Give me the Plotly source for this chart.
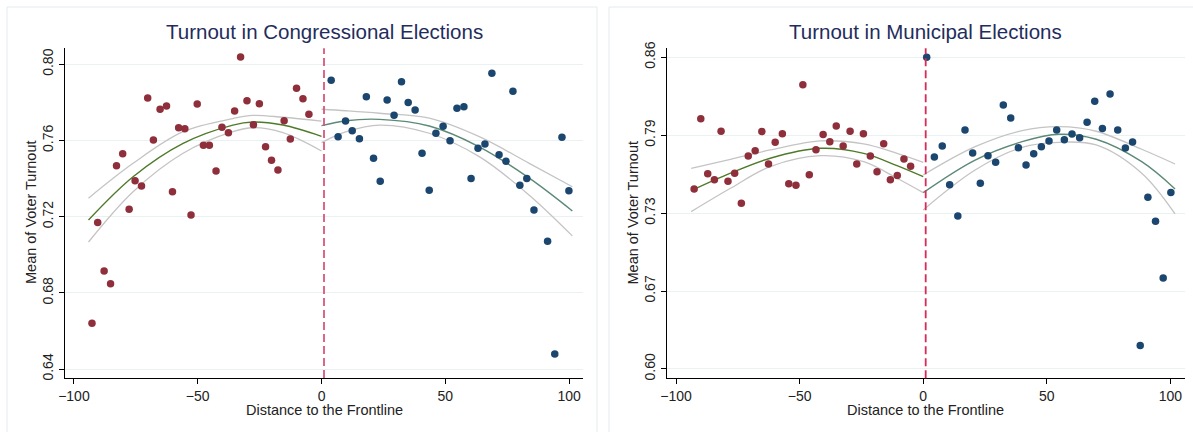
import plotly.graph_objects as go

# ---------------- data: Congressional elections ----------------
cong_red_x = [-92.7, -90.4, -87.8, -85.2, -82.8, -80.3, -77.7, -75.3, -72.7, -70.2, -67.9, -65.2,
              -62.6, -60.2, -57.7, -55.2, -52.7, -50.2, -47.7, -45.3, -42.6, -40.2, -37.6, -35.1,
              -32.7, -30.1, -27.5, -25.1, -22.6, -20.2, -17.6, -15.1, -12.6, -10.1, -7.5, -5.1]
cong_red_y = [0.6640, 0.7169, 0.6915, 0.6848, 0.7468, 0.7531, 0.7239, 0.7389, 0.7361, 0.7823, 0.7603, 0.7764,
              0.7781, 0.7331, 0.7667, 0.7662, 0.7209, 0.7792, 0.7575, 0.7575, 0.7440, 0.7669, 0.7641, 0.7755,
              0.8038, 0.7809, 0.7683, 0.7793, 0.7567, 0.7496, 0.7445, 0.7704, 0.7608, 0.7874, 0.7819, 0.7738]
cong_blue_x = [3.9, 6.7, 9.7, 12.4, 15.3, 18.1, 21.0, 23.7, 26.5, 29.3, 32.3, 35.0, 37.8, 40.6, 43.5, 46.2, 49.1,
               51.9, 54.7, 57.5, 60.4, 63.2, 66.0, 68.8, 71.7, 74.5, 77.3, 80.1, 82.9, 85.8, 91.3, 94.2, 97.1, 99.9]
cong_blue_y = [0.7916, 0.7620, 0.7702, 0.7651, 0.7609, 0.7830, 0.7507, 0.7386, 0.7813, 0.7732, 0.7909, 0.7800,
               0.7760, 0.7533, 0.7339, 0.7638, 0.7675, 0.7599, 0.7769, 0.7777, 0.7400, 0.7559, 0.7582, 0.7953,
               0.7525, 0.7491, 0.7858, 0.7365, 0.7401, 0.7235, 0.7071, 0.6479, 0.7617, 0.7336]

cong_fitL_x = [-94.1, -76.1, -55.9, -35.8, -27.7, -15.6, 0.0]
cong_fitL_y = [0.7183, 0.7410, 0.7585, 0.7681, 0.7697, 0.7681, 0.7622]
cong_fitL_hi = [0.7297, 0.7480, 0.7646, 0.7715, 0.7732, 0.7722, 0.7702]
cong_fitL_lo = [0.7067, 0.7331, 0.7533, 0.7646, 0.7667, 0.7641, 0.7545]

cong_fitR_x = [0.0, 10.0, 23.4, 43.5, 63.7, 83.9, 101.3]
cong_fitR_y = [0.7678, 0.7704, 0.7711, 0.7676, 0.7567, 0.7402, 0.7230]
cong_fitR_hi = [0.7764, 0.7756, 0.7743, 0.7717, 0.7620, 0.7480, 0.7357]
cong_fitR_lo = [0.7589, 0.7646, 0.7681, 0.7638, 0.7515, 0.7313, 0.7099]

cong_ytickvals = [0.64, 0.68, 0.72, 0.76, 0.80]
cong_yticktext = ["0.64", "0.68", "0.72", "0.76", "0.80"]

# ---------------- data: Municipal elections ----------------
muni_red_x = [-92.7, -90.0, -87.2, -84.5, -81.8, -79.0, -76.3, -73.6, -70.8, -68.0, -65.3, -62.6, -59.9,
              -57.0, -54.4, -51.5, -48.7, -46.1, -43.4, -40.5, -37.8, -35.2, -32.4, -29.6, -26.9, -24.2,
              -21.4, -18.7, -16.0, -13.3, -10.5, -7.8, -5.1]
muni_red_y = [0.7502, 0.8088, 0.7629, 0.7579, 0.7983, 0.7566, 0.7633, 0.7382, 0.7777, 0.7821, 0.7980, 0.7710,
              0.7891, 0.7963, 0.7546, 0.7532, 0.8371, 0.7621, 0.7829, 0.7955, 0.7896, 0.8027, 0.7860, 0.7983,
              0.7710, 0.7963, 0.7777, 0.7646, 0.7879, 0.7579, 0.7613, 0.7752, 0.7691]
muni_blue_x = [1.4, 4.5, 7.7, 10.7, 14.0, 16.9, 20.0, 23.1, 26.2, 29.3, 32.4, 35.4, 38.5, 41.6, 44.7, 47.8,
               50.9, 54.0, 57.1, 60.2, 63.3, 66.3, 69.4, 72.5, 75.6, 78.7, 81.8, 84.7, 87.8, 90.9, 94.0,
               97.1, 100.2]
muni_blue_y = [0.8600, 0.7769, 0.7860, 0.7537, 0.7276, 0.7994, 0.7802, 0.7549, 0.7779, 0.7724, 0.8202, 0.8094,
               0.7846, 0.7702, 0.7796, 0.7854, 0.7902, 0.7994, 0.7913, 0.7960, 0.7929, 0.8058, 0.8233, 0.8005,
               0.8294, 0.7994, 0.7844, 0.7894, 0.6195, 0.7432, 0.7232, 0.6759, 0.7471]

muni_fitL_x = [-93.9, -78.0, -61.9, -41.6, -24.1, -10.6, 0.0]
muni_fitL_y = [0.7487, 0.7633, 0.7758, 0.7841, 0.7799, 0.7696, 0.7604]
muni_fitL_hi = [0.7674, 0.7749, 0.7827, 0.7902, 0.7877, 0.7799, 0.7724]
muni_fitL_lo = [0.7312, 0.7507, 0.7688, 0.7779, 0.7729, 0.7591, 0.7471]

muni_fitR_x = [0.0, 21.0, 40.0, 55.0, 70.0, 88.4, 101.9]
muni_fitR_y = [0.7471, 0.7743, 0.7896, 0.7958, 0.7916, 0.7729, 0.7502]
muni_fitR_hi = [0.7618, 0.7854, 0.7988, 0.8021, 0.7983, 0.7833, 0.7710]
muni_fitR_lo = [0.7327, 0.7660, 0.7849, 0.7891, 0.7869, 0.7633, 0.7293]

muni_ytickvals = [0.60, 0.665, 0.73, 0.795, 0.86]
muni_yticktext = ["0.60", "0.67", "0.73", "0.79", "0.86"]

xtickvals = [-100, -50, 0, 50, 100]
cutoff = 1

titles = ["Turnout in Congressional Elections", "Turnout in Municipal Elections"]
xtitle = "Distance to the Frontline"
ytitle = "Mean of Voter Turnout"

# ---------------- styling ----------------
W, H = 1193, 432
FONT = "Liberation Sans, Arial, Helvetica, sans-serif"
RED = "#8f2f3b"
BLUE = "#1b466f"
GRAY = "#c4c4c4"
GRID = "#e9f1f2"


def fx(p):
    return p / W


def fy(p):
    return 1 - p / H


fig = go.Figure()


def add_panel(ax, rx, ry, bx, by, fl, fr, fitL_col, fitR_col):
    xa = "x" if ax == 1 else "x%d" % ax
    ya = "y" if ax == 1 else "y%d" % ax
    for (fxv, fyv, hi, lo), col in ((fl, fitL_col), (fr, fitR_col)):
        for arr, c, w in ((hi, GRAY, 1.3), (lo, GRAY, 1.3), (fyv, col, 1.4)):
            fig.add_trace(go.Scatter(x=fxv, y=arr, mode="lines", line=dict(color=c, width=w, shape="spline"),
                                     xaxis=xa, yaxis=ya, showlegend=False, hoverinfo="skip"))
    fig.add_trace(go.Scatter(x=rx, y=ry, mode="markers", marker=dict(color=RED, size=7.5),
                             xaxis=xa, yaxis=ya, showlegend=False))
    fig.add_trace(go.Scatter(x=bx, y=by, mode="markers", marker=dict(color=BLUE, size=7.5),
                             xaxis=xa, yaxis=ya, showlegend=False))


add_panel(1, cong_red_x, cong_red_y, cong_blue_x, cong_blue_y,
          (cong_fitL_x, cong_fitL_y, cong_fitL_hi, cong_fitL_lo),
          (cong_fitR_x, cong_fitR_y, cong_fitR_hi, cong_fitR_lo), "#4e7a29", "#5d8a76")
add_panel(2, muni_red_x, muni_red_y, muni_blue_x, muni_blue_y,
          (muni_fitL_x, muni_fitL_y, muni_fitL_hi, muni_fitL_lo),
          (muni_fitR_x, muni_fitR_y, muni_fitR_hi, muni_fitR_lo), "#4e7a29", "#5d8a76")

axis_common = dict(showline=True, linecolor="black", linewidth=1.2, ticks="outside", ticklen=5,
                   tickcolor="black", tickwidth=1, zeroline=False, automargin=False,
                   tickfont=dict(family=FONT, size=14, color="#222222"))

fig.update_layout(
    width=W, height=H, margin=dict(l=0, r=0, t=0, b=0, autoexpand=False),
    paper_bgcolor="white", plot_bgcolor="white",
    font=dict(family=FONT, color="#222222"),
    xaxis=dict(domain=[fx(65), fx(583)], range=[-103.6, 105.6], tickvals=xtickvals, showgrid=False,
               anchor="y", **axis_common),
    yaxis=dict(domain=[fy(378), fy(48.3)], range=[0.6353, 0.8084], tickvals=cong_ytickvals,
               ticktext=cong_yticktext, tickangle=-90, showgrid=True, gridcolor=GRID, gridwidth=1.3,
               anchor="x", **axis_common),
    xaxis2=dict(domain=[fx(666.7), fx(1184.7)], range=[-103.8, 105.8], tickvals=xtickvals, showgrid=False,
                anchor="y2", **axis_common),
    yaxis2=dict(domain=[fy(378.3), fy(48.3)], range=[0.5922, 0.8675], tickvals=muni_ytickvals,
                ticktext=muni_yticktext, tickangle=-90, showgrid=True, gridcolor=GRID, gridwidth=1.3,
                anchor="x2", **axis_common),
)

shapes = []
# panel frames (left, top, right edges)
for x0, x1 in ((7, 597), (609, 1196)):
    shapes.append(dict(type="rect", xref="paper", yref="paper", x0=fx(x0), x1=fx(x1), y0=fy(436), y1=fy(7),
                       line=dict(color="#e3ebee", width=1), fillcolor="rgba(0,0,0,0)", layer="below"))
# cutoff lines
shapes.append(dict(type="line", xref="x", yref="y domain", x0=cutoff, x1=cutoff, y0=0, y1=1,
                   line=dict(color="#d9577d", width=1.8, dash="8px,4px")))
shapes.append(dict(type="line", xref="x2", yref="y2 domain", x0=cutoff, x1=cutoff, y0=0, y1=1,
                   line=dict(color="#dc2a58", width=1.8, dash="8px,4px")))
fig.update_layout(shapes=shapes)

ann = []
for t, cx in zip(titles, (324, 925)):
    ann.append(dict(text=t, xref="paper", yref="paper", x=fx(cx), y=fy(31), xanchor="center", yanchor="middle",
                    showarrow=False, font=dict(family=FONT, size=20.5, color="#1f2d5c")))
for cx in (324, 925.7):
    ann.append(dict(text=xtitle, xref="paper", yref="paper", x=fx(cx), y=fy(410), xanchor="center",
                    yanchor="middle", showarrow=False, font=dict(family=FONT, size=14.5, color="#222222")))
for cx in (31, 632.5):
    ann.append(dict(text=ytitle, xref="paper", yref="paper", x=fx(cx), y=fy(213), xanchor="center",
                    yanchor="middle", textangle=-90, showarrow=False,
                    font=dict(family=FONT, size=14.5, color="#222222")))
fig.update_layout(annotations=ann)

fig.write_html("out.html", config={"displayModeBar": False},
               post_script="document.body.style.margin='0px';document.body.style.overflow='hidden';")
